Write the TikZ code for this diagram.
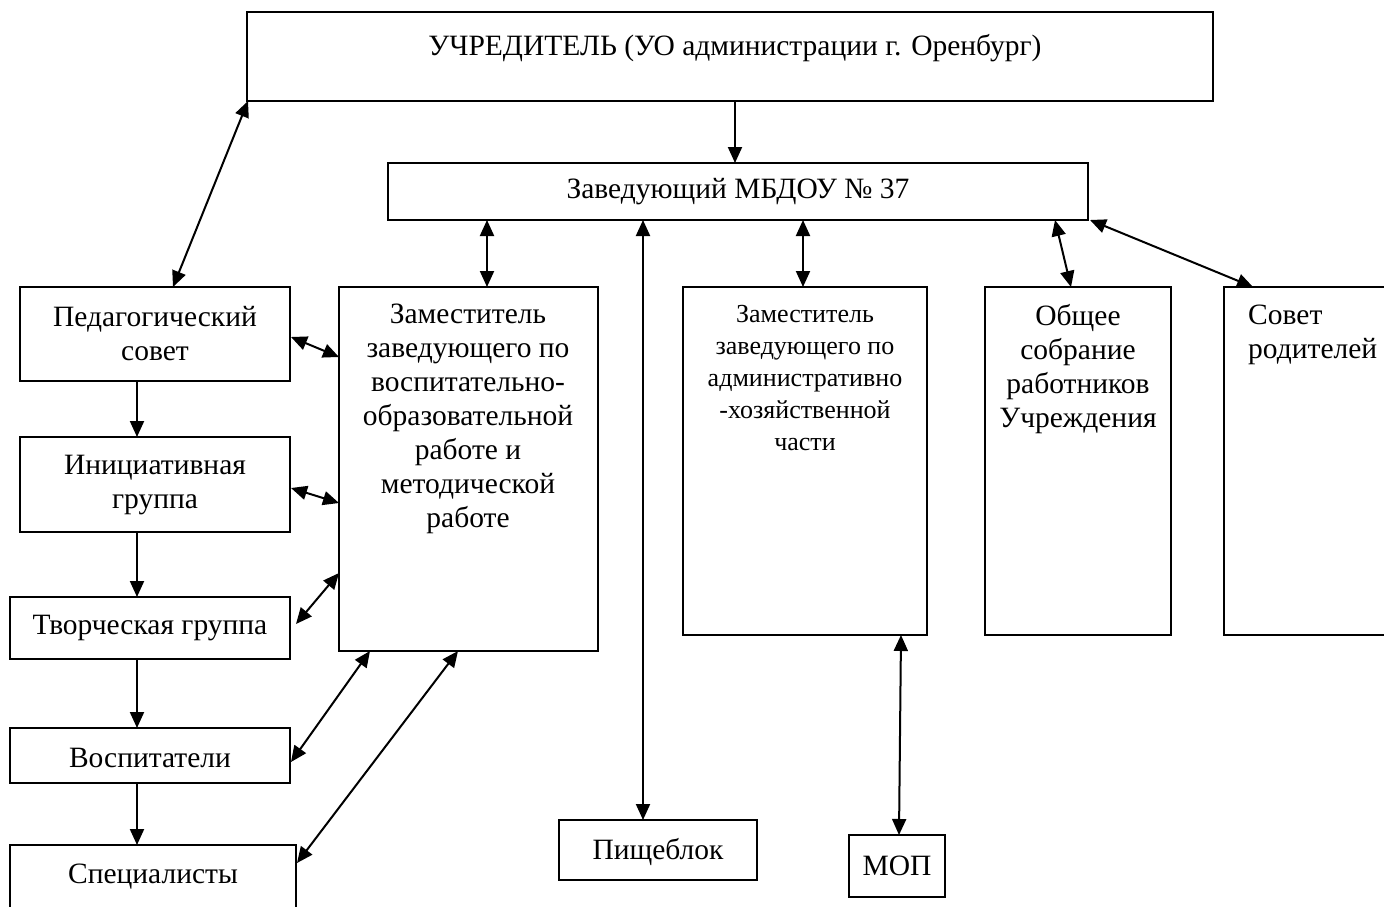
\documentclass[tikz,border=0pt]{standalone}
\usepackage{fontspec}
\setmainfont{Liberation Serif}
\usetikzlibrary{arrows.meta}
\begin{document}
\begin{tikzpicture}[x=1pt,y=-1pt,
  box/.style={draw, line width=2pt, anchor=north west, inner sep=0pt, outer sep=0pt},
  txt/.style={inner sep=0pt, align=center, font=\fontsize{29.5}{34}\selectfont},
  stxt/.style={inner sep=0pt, align=center, font=\fontsize{26}{32}\selectfont},
  conn/.style={line width=2pt, -{Triangle[length=16pt,width=14pt]}},
  dconn/.style={line width=2pt, {Triangle[length=16pt,width=14pt]}-{Triangle[length=16pt,width=14pt]}}]
\useasboundingbox (0,0) rectangle (1384,907);
% boxes
\node[box, minimum width=966pt, minimum height=89pt] (uch) at (247,12) {};
\node[box, minimum width=700pt, minimum height=57pt] (zav) at (388,163) {};
\node[box, minimum width=270pt, minimum height=94pt] (ped) at (20,287) {};
\node[box, minimum width=270pt, minimum height=95pt] (ini) at (20,437) {};
\node[box, minimum width=280pt, minimum height=62pt] (tvor) at (10,597) {};
\node[box, minimum width=280pt, minimum height=55pt] (vosp) at (10,728) {};
\node[box, minimum width=286pt, minimum height=70pt] (spec) at (10,845) {};
\node[box, minimum width=259pt, minimum height=364pt] (dep1) at (339,287) {};
\node[box, minimum width=244pt, minimum height=348pt] (dep2) at (683,287) {};
\node[box, minimum width=186pt, minimum height=348pt] (obs) at (985,287) {};
\node[box, minimum width=170pt, minimum height=348pt] (sov) at (1224,287) {};
\node[box, minimum width=198pt, minimum height=60pt] (pish) at (559,820) {};
\node[box, minimum width=96pt, minimum height=62pt] (mop) at (849,835) {};
% texts
\node[txt] (tuch) at (735,48) {УЧРЕДИТЕЛЬ (УО администрации г. Оренбург)};
\node[txt] (tzav) at (738,192) {Заведующий МБДОУ № 37};
\node[txt] (tped) at (155,334) {Педагогический\\совет};
\node[txt] (tini) at (155,485) {Инициативная\\группа};
\node[txt] (ttvor) at (150,628) {Творческая группа};
\node[txt] (tvosp) at (150,758) {Воспитатели};
\node[txt] (tspec) at (153,877) {Специалисты};
\node[txt, anchor=north] (tdep1) at (468,304) {Заместитель\\заведующего по\\воспитательно-\\образовательной\\работе и\\методической\\работе};
\node[stxt, anchor=north] (tdep2) at (805,305) {Заместитель\\заведующего по\\административно\\-хозяйственной\\части};
\node[txt, anchor=north] (tobs) at (1078,304) {Общее\\собрание\\работников\\Учреждения};
\node[txt, anchor=north west, align=left] (tsov) at (1248,305) {Совет\\родителей};
\node[txt] (tpish) at (658,852) {Пищеблок};
\node[txt] (tmop) at (897,866) {МОП};
% connectors
\draw[dconn] ([xshift=1pt]uch.south west) -- ([xshift=153pt]ped.north west);
\draw[conn] ([xshift=488pt]uch.south west) -- ([xshift=347pt]zav.north west);
\draw[dconn] ([xshift=99pt]zav.south west) -- ([xshift=148pt]dep1.north west);
\draw[dconn] ([xshift=255pt]zav.south west) -- ([xshift=84pt]pish.north west);
\draw[dconn] ([xshift=415pt]zav.south west) -- ([xshift=120pt]dep2.north west);
\draw[dconn] ([xshift=667pt]zav.south west) -- ([xshift=86pt]obs.north west);
\draw[dconn] ([xshift=2pt]zav.south east) -- ([xshift=29pt]sov.north west);
\draw[dconn] ([xshift=218pt]dep2.south west) -- ([xshift=50pt]mop.north west);
\draw[dconn] ([xshift=1pt,yshift=-50pt]ped.north east) -- ([yshift=-70pt]dep1.north west);
\draw[dconn] ([xshift=1pt,yshift=-51pt]ini.north east) -- ([yshift=-216pt]dep1.north west);
\draw[dconn] ([xshift=6pt,yshift=-27pt]tvor.north east) -- ([yshift=-286pt]dep1.north west);
\draw[dconn] ([xshift=1pt,yshift=-34pt]vosp.north east) -- ([xshift=31pt]dep1.south west);
\draw[dconn] ([xshift=1pt,yshift=-18pt]spec.north east) -- ([xshift=119pt]dep1.south west);
\draw[conn] ([xshift=117pt]ped.south west) -- ([xshift=117pt]ini.north west);
\draw[conn] ([xshift=117pt]ini.south west) -- ([xshift=127pt]tvor.north west);
\draw[conn] ([xshift=127pt]tvor.south west) -- ([xshift=127pt]vosp.north west);
\draw[conn] ([xshift=127pt]vosp.south west) -- ([xshift=127pt]spec.north west);
\end{tikzpicture}
\end{document}
